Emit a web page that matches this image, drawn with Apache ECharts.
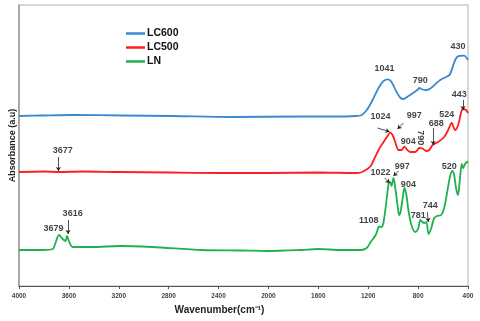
<!DOCTYPE html>
<html>
<head>
<meta charset="utf-8">
<script src="https://cdn.jsdelivr.net/npm/echarts@6/dist/echarts.min.js"></script>
<style>
 html, body { margin: 0; padding: 0; background: #fff; }
 #chart { width: 480px; height: 321px; }
</style>
</head>
<body>
<div id="chart"></div>
<script>
// FTIR spectra, [wavenumber, absorbance (arbitrary offset units)]
const lc600 = [
 [4000, 170], [3809, 170.5], [3570, 171], [3172, 170.5], [2773, 170], [2296, 169],
 [1738, 169.5], [1419, 169.5], [1300, 170], [1260, 170.5], [1212, 176], [1165, 186],
 [1117, 198], [1077, 205], [1041, 206.7], [1013, 204], [973, 194], [941, 188], [917, 187],
 [877, 190], [830, 194], [805, 196], [790, 198], [766, 196.5], [735, 196], [702, 197.5],
 [623, 206], [560, 210], [543, 212], [512, 223], [488, 229], [432, 230.3], [416, 229], [400, 226],
];
const lc500 = [
 [4000, 114], [3800, 114.5], [3677, 114], [3500, 114.5], [3200, 114], [2800, 113.5],
 [2400, 113], [2000, 113], [1600, 113.5], [1300, 113], [1260, 113.5], [1220, 116],
 [1180, 120], [1156, 126], [1117, 136], [1077, 144], [1045, 150], [1025, 153.3], [1005, 151],
 [981, 143], [957, 136], [933, 136], [910, 139.3], [886, 136], [862, 134], [822, 134],
 [790, 138], [766, 137.5], [734, 135], [711, 136], [683, 141], [639, 144], [591, 149],
 [559, 156], [531, 163], [503, 156], [479, 161], [456, 173], [443, 177], [416, 176], [400, 173],
];
const ln = [
 [4000, 36], [3809, 36], [3729, 37], [3713, 41], [3679, 51], [3650, 47], [3626, 45],
 [3616, 50], [3594, 43], [3570, 39], [3411, 39], [3196, 40], [2933, 39], [2534, 36],
 [2216, 35.5], [2001, 35], [1738, 36], [1603, 37], [1419, 36], [1260, 36], [1212, 38],
 [1180, 44], [1140, 51], [1117, 59], [1108, 59.5], [1093, 59], [1077, 64], [1053, 86],
 [1037, 102], [1025, 104], [1013, 100], [997, 108], [981, 96], [965, 81], [953, 71],
 [941, 74], [926, 86], [910, 98], [894, 91], [878, 76], [854, 61], [822, 54], [798, 58],
 [782, 66], [766, 64], [750, 63], [734, 64], [716, 52], [694, 58], [671, 68], [647, 70],
 [615, 71], [591, 78], [567, 94], [543, 110], [525, 115], [511, 111], [496, 98], [480, 91],
 [464, 108], [450, 122], [440, 118], [424, 122], [408, 124], [400, 123],
];

// peak labels: [wavenumber, value, text, rotate]
const peakLabels = [
 [1069, 217, '1041', 0], [782, 205, '790', 0], [480, 239.3, '430', 0],
 [3650, 135.3, '3677', 0], [1101, 169, '1024', 0], [830, 170, '997', 0],
 [880, 144.7, '904', 0], [782, 148.3, '790', -90], [655, 162.7, '688', 0],
 [570, 171, '524', 0], [471, 191.7, '443', 0],
 [3724, 57.7, '3679', 0], [3570, 72, '3616', 0], [1101, 113.7, '1022', 0],
 [928, 119.3, '997', 0], [878, 101.7, '904', 0], [1196, 65, '1108', 0],
 [798, 70.3, '781', 0], [702, 80, '744', 0], [551, 119.3, '520', 0],
];
// arrows: [fromW, fromV, toW, toV]
const peakArrows = [
 [3684, 129, 3684, 115], [1125, 158, 1029, 154.3], [918, 163, 965, 157],
 [679, 158, 679, 141], [440, 186, 440, 176],
 [3607, 66, 3607, 52], [1069, 108, 1029, 103], [957, 115, 997, 110], [726, 74, 718, 64],
];

const xTicks = [4000, 3600, 3200, 2800, 2400, 2000, 1600, 1200, 800, 400];

const font = 'Liberation Sans, Arial, sans-serif';
const chart = echarts.init(document.getElementById('chart'), null, { renderer: 'canvas' });

function line(name, data, color) {
 return {
 name, type: 'line', data, color,
 showSymbol: false, smooth: 0.3,
 lineStyle: { width: 1.8, color },
 animation: false,
 };
}

chart.setOption({
 backgroundColor: '#fff',
 animation: false,
 grid: { left: 16, right: 12, top: 5, bottom: 35, show: true, borderColor: '#b0b0b0', borderWidth: 1 },
 legend: {
 data: ['LC600', 'LC500', 'LN'],
 orient: 'vertical', left: 121, top: 23,
 icon: 'rect', itemWidth: 19, itemHeight: 2.5, itemGap: 3,
 textStyle: { fontFamily: font, fontWeight: 'bold', fontSize: 10.5, color: '#111', lineHeight: 10.5, padding: [0, 0, 0, -3] },
 },
 xAxis: {
 type: 'value', inverse: true, min: 400, max: 4000, interval: 400,
 name: 'Wavenumber(cm⁻¹)', nameLocation: 'middle', nameGap: 18,
 nameTextStyle: { fontFamily: font, fontWeight: 'bold', fontSize: 10, color: '#222', padding: [0, 48, 0, 0] },
 axisLine: { lineStyle: { color: '#555', width: 1 } },
 axisTick: { length: 3, lineStyle: { color: '#555' } },
 splitLine: { show: false },
 axisLabel: {
 fontFamily: font, fontWeight: 'bold', fontSize: 6.5, color: '#444', margin: 7,
 formatter: v => xTicks.includes(v) ? String(v) : '',
 },
 },
 yAxis: {
 type: 'value', min: 0, max: 281,
 name: 'Absorbance (a.u)', nameLocation: 'middle', nameGap: 2,
 nameTextStyle: { fontFamily: font, fontWeight: 'bold', fontSize: 9, color: '#222' },
 axisLine: { show: true, lineStyle: { color: '#999', width: 1.5 } },
 axisTick: { show: false }, axisLabel: { show: false }, splitLine: { show: false },
 },
 series: [
 line('LC600', lc600, '#3a88d2'),
 line('LC500', lc500, '#ff1e1e'),
 line('LN', ln, '#1fb14f'),
 {
 name: 'notes', type: 'scatter', symbolSize: 0, silent: true, z: 5,
 data: peakLabels.map(p => ({
 value: [p[0], p[1]],
 label: { show: true, position: 'inside', formatter: p[2], rotate: p[3] },
 })),
 label: { fontFamily: font, fontWeight: 'bold', fontSize: 9, color: '#111' },
 markLine: {
 silent: true, symbol: ['none', 'arrow'], symbolSize: 4, animation: false,
 label: { show: false },
 lineStyle: { color: '#222', width: 0.8, type: 'solid' },
 data: peakArrows.map(a => [{ coord: [a[0], a[1]] }, { coord: [a[2], a[3]] }]),
 },
 },
 ],
});
</script>
</body>
</html>
